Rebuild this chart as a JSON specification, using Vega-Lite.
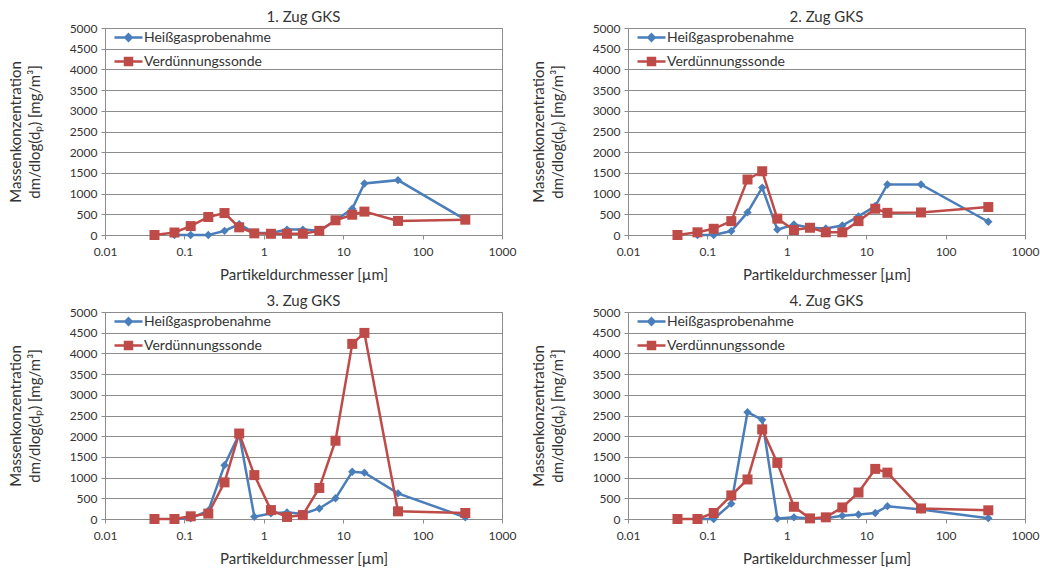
{
  "$schema": "https://vega.github.io/schema/vega-lite/v6.json",
  "padding": {"left": 7, "top": 9, "right": 0, "bottom": 0},
  "background": "white",
  "data": {"values": [
    {"panel":1,"series":"Heißgasprobenahme","dp":0.075,"conc":0},
    {"panel":1,"series":"Heißgasprobenahme","dp":0.12,"conc":0},
    {"panel":1,"series":"Heißgasprobenahme","dp":0.2,"conc":0},
    {"panel":1,"series":"Heißgasprobenahme","dp":0.32,"conc":100},
    {"panel":1,"series":"Heißgasprobenahme","dp":0.49,"conc":260},
    {"panel":1,"series":"Heißgasprobenahme","dp":0.76,"conc":50},
    {"panel":1,"series":"Heißgasprobenahme","dp":1.23,"conc":50},
    {"panel":1,"series":"Heißgasprobenahme","dp":1.96,"conc":130},
    {"panel":1,"series":"Heißgasprobenahme","dp":3.1,"conc":130},
    {"panel":1,"series":"Heißgasprobenahme","dp":5.0,"conc":100},
    {"panel":1,"series":"Heißgasprobenahme","dp":8.0,"conc":350},
    {"panel":1,"series":"Heißgasprobenahme","dp":13,"conc":635},
    {"panel":1,"series":"Heißgasprobenahme","dp":18.5,"conc":1245},
    {"panel":1,"series":"Heißgasprobenahme","dp":49,"conc":1325},
    {"panel":1,"series":"Heißgasprobenahme","dp":345,"conc":370},
    {"panel":1,"series":"Verdünnungssonde","dp":0.042,"conc":0},
    {"panel":1,"series":"Verdünnungssonde","dp":0.075,"conc":60},
    {"panel":1,"series":"Verdünnungssonde","dp":0.12,"conc":215},
    {"panel":1,"series":"Verdünnungssonde","dp":0.2,"conc":435},
    {"panel":1,"series":"Verdünnungssonde","dp":0.32,"conc":530},
    {"panel":1,"series":"Verdünnungssonde","dp":0.49,"conc":185},
    {"panel":1,"series":"Verdünnungssonde","dp":0.76,"conc":40},
    {"panel":1,"series":"Verdünnungssonde","dp":1.23,"conc":30},
    {"panel":1,"series":"Verdünnungssonde","dp":1.96,"conc":30},
    {"panel":1,"series":"Verdünnungssonde","dp":3.1,"conc":30},
    {"panel":1,"series":"Verdünnungssonde","dp":5.0,"conc":100},
    {"panel":1,"series":"Verdünnungssonde","dp":8.0,"conc":355},
    {"panel":1,"series":"Verdünnungssonde","dp":13,"conc":490},
    {"panel":1,"series":"Verdünnungssonde","dp":18.5,"conc":565},
    {"panel":1,"series":"Verdünnungssonde","dp":49,"conc":340},
    {"panel":1,"series":"Verdünnungssonde","dp":345,"conc":370},
    {"panel":2,"series":"Heißgasprobenahme","dp":0.075,"conc":0},
    {"panel":2,"series":"Heißgasprobenahme","dp":0.12,"conc":0},
    {"panel":2,"series":"Heißgasprobenahme","dp":0.2,"conc":95},
    {"panel":2,"series":"Heißgasprobenahme","dp":0.32,"conc":545},
    {"panel":2,"series":"Heißgasprobenahme","dp":0.49,"conc":1145},
    {"panel":2,"series":"Heißgasprobenahme","dp":0.76,"conc":130},
    {"panel":2,"series":"Heißgasprobenahme","dp":1.23,"conc":255},
    {"panel":2,"series":"Heißgasprobenahme","dp":1.96,"conc":175},
    {"panel":2,"series":"Heißgasprobenahme","dp":3.1,"conc":160},
    {"panel":2,"series":"Heißgasprobenahme","dp":5.0,"conc":230},
    {"panel":2,"series":"Heißgasprobenahme","dp":8.0,"conc":450},
    {"panel":2,"series":"Heißgasprobenahme","dp":13,"conc":700},
    {"panel":2,"series":"Heißgasprobenahme","dp":18.5,"conc":1220},
    {"panel":2,"series":"Heißgasprobenahme","dp":49,"conc":1220},
    {"panel":2,"series":"Heißgasprobenahme","dp":345,"conc":320},
    {"panel":2,"series":"Verdünnungssonde","dp":0.042,"conc":0},
    {"panel":2,"series":"Verdünnungssonde","dp":0.075,"conc":65},
    {"panel":2,"series":"Verdünnungssonde","dp":0.12,"conc":150},
    {"panel":2,"series":"Verdünnungssonde","dp":0.2,"conc":335},
    {"panel":2,"series":"Verdünnungssonde","dp":0.32,"conc":1340},
    {"panel":2,"series":"Verdünnungssonde","dp":0.49,"conc":1540},
    {"panel":2,"series":"Verdünnungssonde","dp":0.76,"conc":395},
    {"panel":2,"series":"Verdünnungssonde","dp":1.23,"conc":120},
    {"panel":2,"series":"Verdünnungssonde","dp":1.96,"conc":175},
    {"panel":2,"series":"Verdünnungssonde","dp":3.1,"conc":65},
    {"panel":2,"series":"Verdünnungssonde","dp":5.0,"conc":65},
    {"panel":2,"series":"Verdünnungssonde","dp":8.0,"conc":335},
    {"panel":2,"series":"Verdünnungssonde","dp":13,"conc":635},
    {"panel":2,"series":"Verdünnungssonde","dp":18.5,"conc":535},
    {"panel":2,"series":"Verdünnungssonde","dp":49,"conc":545},
    {"panel":2,"series":"Verdünnungssonde","dp":345,"conc":675},
    {"panel":3,"series":"Heißgasprobenahme","dp":0.075,"conc":0},
    {"panel":3,"series":"Heißgasprobenahme","dp":0.12,"conc":15},
    {"panel":3,"series":"Heißgasprobenahme","dp":0.2,"conc":200},
    {"panel":3,"series":"Heißgasprobenahme","dp":0.32,"conc":1300},
    {"panel":3,"series":"Heißgasprobenahme","dp":0.49,"conc":2050},
    {"panel":3,"series":"Heißgasprobenahme","dp":0.76,"conc":55},
    {"panel":3,"series":"Heißgasprobenahme","dp":1.23,"conc":135},
    {"panel":3,"series":"Heißgasprobenahme","dp":1.96,"conc":160},
    {"panel":3,"series":"Heißgasprobenahme","dp":3.1,"conc":120},
    {"panel":3,"series":"Heißgasprobenahme","dp":5.0,"conc":255},
    {"panel":3,"series":"Heißgasprobenahme","dp":8.0,"conc":500},
    {"panel":3,"series":"Heißgasprobenahme","dp":13,"conc":1140},
    {"panel":3,"series":"Heißgasprobenahme","dp":18.5,"conc":1120},
    {"panel":3,"series":"Heißgasprobenahme","dp":49,"conc":620},
    {"panel":3,"series":"Heißgasprobenahme","dp":345,"conc":40},
    {"panel":3,"series":"Verdünnungssonde","dp":0.042,"conc":0},
    {"panel":3,"series":"Verdünnungssonde","dp":0.075,"conc":0},
    {"panel":3,"series":"Verdünnungssonde","dp":0.12,"conc":65},
    {"panel":3,"series":"Verdünnungssonde","dp":0.2,"conc":130},
    {"panel":3,"series":"Verdünnungssonde","dp":0.32,"conc":885},
    {"panel":3,"series":"Verdünnungssonde","dp":0.49,"conc":2065},
    {"panel":3,"series":"Verdünnungssonde","dp":0.76,"conc":1060},
    {"panel":3,"series":"Verdünnungssonde","dp":1.23,"conc":215},
    {"panel":3,"series":"Verdünnungssonde","dp":1.96,"conc":50},
    {"panel":3,"series":"Verdünnungssonde","dp":3.1,"conc":95},
    {"panel":3,"series":"Verdünnungssonde","dp":5.0,"conc":750},
    {"panel":3,"series":"Verdünnungssonde","dp":8.0,"conc":1890},
    {"panel":3,"series":"Verdünnungssonde","dp":13,"conc":4230},
    {"panel":3,"series":"Verdünnungssonde","dp":18.5,"conc":4495},
    {"panel":3,"series":"Verdünnungssonde","dp":49,"conc":185},
    {"panel":3,"series":"Verdünnungssonde","dp":345,"conc":145},
    {"panel":4,"series":"Heißgasprobenahme","dp":0.075,"conc":0},
    {"panel":4,"series":"Heißgasprobenahme","dp":0.12,"conc":0},
    {"panel":4,"series":"Heißgasprobenahme","dp":0.2,"conc":370},
    {"panel":4,"series":"Heißgasprobenahme","dp":0.32,"conc":2580},
    {"panel":4,"series":"Heißgasprobenahme","dp":0.49,"conc":2395},
    {"panel":4,"series":"Heißgasprobenahme","dp":0.76,"conc":10},
    {"panel":4,"series":"Heißgasprobenahme","dp":1.23,"conc":40},
    {"panel":4,"series":"Heißgasprobenahme","dp":1.96,"conc":15},
    {"panel":4,"series":"Heißgasprobenahme","dp":3.1,"conc":20},
    {"panel":4,"series":"Heißgasprobenahme","dp":5.0,"conc":80},
    {"panel":4,"series":"Heißgasprobenahme","dp":8.0,"conc":110},
    {"panel":4,"series":"Heißgasprobenahme","dp":13,"conc":145},
    {"panel":4,"series":"Heißgasprobenahme","dp":18.5,"conc":310},
    {"panel":4,"series":"Heißgasprobenahme","dp":49,"conc":230},
    {"panel":4,"series":"Heißgasprobenahme","dp":345,"conc":20},
    {"panel":4,"series":"Verdünnungssonde","dp":0.042,"conc":0},
    {"panel":4,"series":"Verdünnungssonde","dp":0.075,"conc":0},
    {"panel":4,"series":"Verdünnungssonde","dp":0.12,"conc":145},
    {"panel":4,"series":"Verdünnungssonde","dp":0.2,"conc":570},
    {"panel":4,"series":"Verdünnungssonde","dp":0.32,"conc":955},
    {"panel":4,"series":"Verdünnungssonde","dp":0.49,"conc":2165},
    {"panel":4,"series":"Verdünnungssonde","dp":0.76,"conc":1355},
    {"panel":4,"series":"Verdünnungssonde","dp":1.23,"conc":295},
    {"panel":4,"series":"Verdünnungssonde","dp":1.96,"conc":15},
    {"panel":4,"series":"Verdünnungssonde","dp":3.1,"conc":40},
    {"panel":4,"series":"Verdünnungssonde","dp":5.0,"conc":280},
    {"panel":4,"series":"Verdünnungssonde","dp":8.0,"conc":640},
    {"panel":4,"series":"Verdünnungssonde","dp":13,"conc":1210},
    {"panel":4,"series":"Verdünnungssonde","dp":18.5,"conc":1120},
    {"panel":4,"series":"Verdünnungssonde","dp":49,"conc":255},
    {"panel":4,"series":"Verdünnungssonde","dp":345,"conc":210}
  ]},
  "columns": 2,
  "bounds": "flush",
  "spacing": {"row": 77, "column": 126},
  "resolve": {"scale": {"color": "independent", "x": "independent", "y": "independent"}, "legend": {"color": "independent"}},
  "config": {
    "font": "Lato",
    "view": {"stroke": "#8c8c8c", "strokeWidth": 1},
    "axis": {"labelFont": "Lato", "labelFontSize": 12, "labelColor": "#333333", "titleFont": "Lato", "titleFontSize": 15, "titleFontWeight": "normal", "titleColor": "#333333", "domainColor": "#8c8c8c", "tickColor": "#8c8c8c", "gridColor": "#8c8c8c", "tickSize": 4, "labelFlush": false},
    "title": {"font": "Lato", "fontSize": 15, "fontWeight": "normal", "color": "#333333", "offset": -3, "anchor": "middle"},
    "legend": {"labelFont": "Lato", "labelFontSize": 14, "labelColor": "#333333"}
  },
  "concat": [
    {
      "width": 397, "height": 207,
      "title": {"text": "1. Zug GKS"},
      "transform": [{"filter": "datum.panel === 1"}],
      "encoding": {
        "x": {"field": "dp", "type": "quantitative", "scale": {"type": "log", "domain": [0.01, 1000]}, "axis": {"values": [0.01, 0.1, 1, 10, 100, 1000], "format": "~g", "grid": false, "title": "Partikeldurchmesser [µm]", "labelPadding": 7, "titlePadding": 10}},
        "y": {"field": "conc", "type": "quantitative", "scale": {"domain": [0, 5000], "nice": false}, "axis": {"values": [0,500,1000,1500,2000,2500,3000,3500,4000,4500,5000], "format": "d", "grid": true, "title": ["Massenkonzentration", "dm/dlog(dₚ) [mg/m³]"], "titleLineHeight": 19, "titlePadding": 27, "labelPadding": 4}},
        "color": {"field": "series", "type": "nominal", "scale": {"domain": ["Heißgasprobenahme", "Verdünnungssonde"], "range": ["#4a7ebb", "#be4b48"]}, "legend": {"title": null, "orient": "none", "legendX": 15, "legendY": 1, "symbolSize": 196, "labelOffset": 7, "rowPadding": 7, "encode": {"symbols": {"update": {"shape": {"signal": "datum.value === 'Heißgasprobenahme' ? 'M-2,0H2M0,-0.45L0.45,0L0,0.45L-0.45,0Z' : 'M-2,0H2M-0.5,-0.5H0.5V0.5H-0.5Z'"}, "stroke": {"signal": "datum.value === 'Heißgasprobenahme' ? '#4a7ebb' : '#be4b48'"}, "fill": {"signal": "datum.value === 'Heißgasprobenahme' ? '#4a7ebb' : '#be4b48'"}, "strokeWidth": {"value": 2.5}, "opacity": {"value": 1}}}}}}
      },
      "layer": [
        {"transform": [{"filter": "datum.series === 'Heißgasprobenahme'"}], "mark": {"type": "line", "strokeWidth": 2.5}},
        {"transform": [{"filter": "datum.series === 'Heißgasprobenahme'"}], "mark": {"type": "point", "filled": true, "opacity": 1, "size": 70, "shape": "diamond"}},
        {"transform": [{"filter": "datum.series === 'Verdünnungssonde'"}], "mark": {"type": "line", "strokeWidth": 2.5}},
        {"transform": [{"filter": "datum.series === 'Verdünnungssonde'"}], "mark": {"type": "point", "filled": true, "opacity": 1, "size": 100, "shape": "square"}}
      ]
    },
    {
      "width": 397, "height": 207,
      "title": {"text": "2. Zug GKS"},
      "transform": [{"filter": "datum.panel === 2"}],
      "encoding": {
        "x": {"field": "dp", "type": "quantitative", "scale": {"type": "log", "domain": [0.01, 1000]}, "axis": {"values": [0.01, 0.1, 1, 10, 100, 1000], "format": "~g", "grid": false, "title": "Partikeldurchmesser [µm]", "labelPadding": 7, "titlePadding": 10}},
        "y": {"field": "conc", "type": "quantitative", "scale": {"domain": [0, 5000], "nice": false}, "axis": {"values": [0,500,1000,1500,2000,2500,3000,3500,4000,4500,5000], "format": "d", "grid": true, "title": ["Massenkonzentration", "dm/dlog(dₚ) [mg/m³]"], "titleLineHeight": 19, "titlePadding": 27, "labelPadding": 4}},
        "color": {"field": "series", "type": "nominal", "scale": {"domain": ["Heißgasprobenahme", "Verdünnungssonde"], "range": ["#4a7ebb", "#be4b48"]}, "legend": {"title": null, "orient": "none", "legendX": 15, "legendY": 1, "symbolSize": 196, "labelOffset": 7, "rowPadding": 7, "encode": {"symbols": {"update": {"shape": {"signal": "datum.value === 'Heißgasprobenahme' ? 'M-2,0H2M0,-0.45L0.45,0L0,0.45L-0.45,0Z' : 'M-2,0H2M-0.5,-0.5H0.5V0.5H-0.5Z'"}, "stroke": {"signal": "datum.value === 'Heißgasprobenahme' ? '#4a7ebb' : '#be4b48'"}, "fill": {"signal": "datum.value === 'Heißgasprobenahme' ? '#4a7ebb' : '#be4b48'"}, "strokeWidth": {"value": 2.5}, "opacity": {"value": 1}}}}}}
      },
      "layer": [
        {"transform": [{"filter": "datum.series === 'Heißgasprobenahme'"}], "mark": {"type": "line", "strokeWidth": 2.5}},
        {"transform": [{"filter": "datum.series === 'Heißgasprobenahme'"}], "mark": {"type": "point", "filled": true, "opacity": 1, "size": 70, "shape": "diamond"}},
        {"transform": [{"filter": "datum.series === 'Verdünnungssonde'"}], "mark": {"type": "line", "strokeWidth": 2.5}},
        {"transform": [{"filter": "datum.series === 'Verdünnungssonde'"}], "mark": {"type": "point", "filled": true, "opacity": 1, "size": 100, "shape": "square"}}
      ]
    },
    {
      "width": 397, "height": 207,
      "title": {"text": "3. Zug GKS"},
      "transform": [{"filter": "datum.panel === 3"}],
      "encoding": {
        "x": {"field": "dp", "type": "quantitative", "scale": {"type": "log", "domain": [0.01, 1000]}, "axis": {"values": [0.01, 0.1, 1, 10, 100, 1000], "format": "~g", "grid": false, "title": "Partikeldurchmesser [µm]", "labelPadding": 7, "titlePadding": 10}},
        "y": {"field": "conc", "type": "quantitative", "scale": {"domain": [0, 5000], "nice": false}, "axis": {"values": [0,500,1000,1500,2000,2500,3000,3500,4000,4500,5000], "format": "d", "grid": true, "title": ["Massenkonzentration", "dm/dlog(dₚ) [mg/m³]"], "titleLineHeight": 19, "titlePadding": 27, "labelPadding": 4}},
        "color": {"field": "series", "type": "nominal", "scale": {"domain": ["Heißgasprobenahme", "Verdünnungssonde"], "range": ["#4a7ebb", "#be4b48"]}, "legend": {"title": null, "orient": "none", "legendX": 15, "legendY": 1, "symbolSize": 196, "labelOffset": 7, "rowPadding": 7, "encode": {"symbols": {"update": {"shape": {"signal": "datum.value === 'Heißgasprobenahme' ? 'M-2,0H2M0,-0.45L0.45,0L0,0.45L-0.45,0Z' : 'M-2,0H2M-0.5,-0.5H0.5V0.5H-0.5Z'"}, "stroke": {"signal": "datum.value === 'Heißgasprobenahme' ? '#4a7ebb' : '#be4b48'"}, "fill": {"signal": "datum.value === 'Heißgasprobenahme' ? '#4a7ebb' : '#be4b48'"}, "strokeWidth": {"value": 2.5}, "opacity": {"value": 1}}}}}}
      },
      "layer": [
        {"transform": [{"filter": "datum.series === 'Heißgasprobenahme'"}], "mark": {"type": "line", "strokeWidth": 2.5}},
        {"transform": [{"filter": "datum.series === 'Heißgasprobenahme'"}], "mark": {"type": "point", "filled": true, "opacity": 1, "size": 70, "shape": "diamond"}},
        {"transform": [{"filter": "datum.series === 'Verdünnungssonde'"}], "mark": {"type": "line", "strokeWidth": 2.5}},
        {"transform": [{"filter": "datum.series === 'Verdünnungssonde'"}], "mark": {"type": "point", "filled": true, "opacity": 1, "size": 100, "shape": "square"}}
      ]
    },
    {
      "width": 397, "height": 207,
      "title": {"text": "4. Zug GKS"},
      "transform": [{"filter": "datum.panel === 4"}],
      "encoding": {
        "x": {"field": "dp", "type": "quantitative", "scale": {"type": "log", "domain": [0.01, 1000]}, "axis": {"values": [0.01, 0.1, 1, 10, 100, 1000], "format": "~g", "grid": false, "title": "Partikeldurchmesser [µm]", "labelPadding": 7, "titlePadding": 10}},
        "y": {"field": "conc", "type": "quantitative", "scale": {"domain": [0, 5000], "nice": false}, "axis": {"values": [0,500,1000,1500,2000,2500,3000,3500,4000,4500,5000], "format": "d", "grid": true, "title": ["Massenkonzentration", "dm/dlog(dₚ) [mg/m³]"], "titleLineHeight": 19, "titlePadding": 27, "labelPadding": 4}},
        "color": {"field": "series", "type": "nominal", "scale": {"domain": ["Heißgasprobenahme", "Verdünnungssonde"], "range": ["#4a7ebb", "#be4b48"]}, "legend": {"title": null, "orient": "none", "legendX": 15, "legendY": 1, "symbolSize": 196, "labelOffset": 7, "rowPadding": 7, "encode": {"symbols": {"update": {"shape": {"signal": "datum.value === 'Heißgasprobenahme' ? 'M-2,0H2M0,-0.45L0.45,0L0,0.45L-0.45,0Z' : 'M-2,0H2M-0.5,-0.5H0.5V0.5H-0.5Z'"}, "stroke": {"signal": "datum.value === 'Heißgasprobenahme' ? '#4a7ebb' : '#be4b48'"}, "fill": {"signal": "datum.value === 'Heißgasprobenahme' ? '#4a7ebb' : '#be4b48'"}, "strokeWidth": {"value": 2.5}, "opacity": {"value": 1}}}}}}
      },
      "layer": [
        {"transform": [{"filter": "datum.series === 'Heißgasprobenahme'"}], "mark": {"type": "line", "strokeWidth": 2.5}},
        {"transform": [{"filter": "datum.series === 'Heißgasprobenahme'"}], "mark": {"type": "point", "filled": true, "opacity": 1, "size": 70, "shape": "diamond"}},
        {"transform": [{"filter": "datum.series === 'Verdünnungssonde'"}], "mark": {"type": "line", "strokeWidth": 2.5}},
        {"transform": [{"filter": "datum.series === 'Verdünnungssonde'"}], "mark": {"type": "point", "filled": true, "opacity": 1, "size": 100, "shape": "square"}}
      ]
    }
  ]
}
